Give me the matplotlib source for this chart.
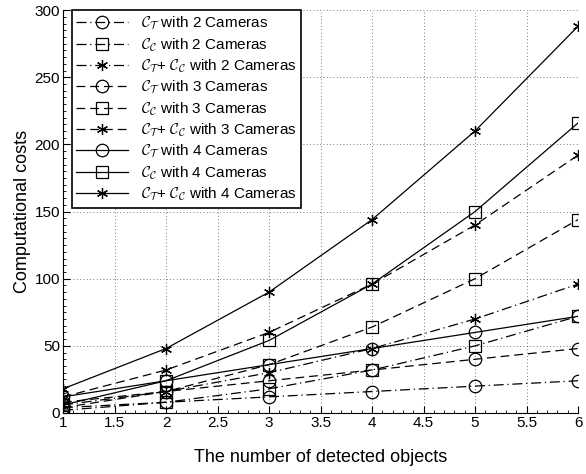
import matplotlib.pyplot as plt
from matplotlib.ticker import MultipleLocator

plt.rcParams['font.family'] = ['Liberation Sans', 'DejaVu Sans']
plt.rcParams['mathtext.fontset'] = 'cm'

objects = [1, 2, 3, 4, 5, 6]

ct_2 = [4, 8, 12, 16, 20, 24]
cc_2 = [2, 8, 18, 32, 50, 72]
ctc_2 = [6, 16, 30, 48, 70, 96]
ct_3 = [8, 16, 24, 32, 40, 48]
cc_3 = [4, 16, 36, 64, 100, 144]
ctc_3 = [12, 32, 60, 96, 140, 192]
ct_4 = [12, 24, 36, 48, 60, 72]
cc_4 = [6, 24, 54, 96, 150, 216]
ctc_4 = [18, 48, 90, 144, 210, 288]

CT = r'$\mathcal{C}_{\mathcal{T}}$'
CC = r'$\mathcal{C}_{\mathcal{C}}$'

# six-armed asterisk with a vertical stroke, like MATLAB's '*'
star = (6, 2, 0)
series = [
    (ct_2, 'o', '-.', CT + ' with 2 Cameras'),
    (cc_2, 's', '-.', CC + ' with 2 Cameras'),
    (ctc_2, star, '-.', CT + '+ ' + CC + ' with 2 Cameras'),
    (ct_3, 'o', '--', CT + ' with 3 Cameras'),
    (cc_3, 's', '--', CC + ' with 3 Cameras'),
    (ctc_3, star, '--', CT + '+ ' + CC + ' with 3 Cameras'),
    (ct_4, 'o', '-', CT + ' with 4 Cameras'),
    (cc_4, 's', '-', CC + ' with 4 Cameras'),
    (ctc_4, star, '-', CT + '+ ' + CC + ' with 4 Cameras'),
]

fig = plt.figure(figsize=(5.86, 4.74), dpi=100)
ax = fig.add_axes([0.1075, 0.1287, 0.879, 0.850])

for vals, mk, ls, label in series:
    dashes = {'-.': (8, 3, 1, 3), '--': (7, 4)}.get(ls)
    size = {'o': 9, 's': 8.5}.get(mk, 8) if isinstance(mk, str) else 8
    line, = ax.plot(objects, vals, color='black', linestyle=ls, linewidth=0.9,
                    marker=mk, markersize=size,
                    markerfacecolor='none', markeredgecolor='black',
                    markeredgewidth=0.9, label=label)
    if dashes:
        line.set_dashes(dashes)

ax.set_xlim(1, 6)
ax.set_ylim(0, 300)
ax.set_xticks([1, 1.5, 2, 2.5, 3, 3.5, 4, 4.5, 5, 5.5, 6])
ax.set_xticklabels(['1', '1.5', '2', '2.5', '3', '3.5', '4', '4.5', '5', '5.5', '6'])
ax.set_yticks([0, 50, 100, 150, 200, 250, 300])
ax.xaxis.set_minor_locator(MultipleLocator(0.1))
ax.yaxis.set_minor_locator(MultipleLocator(5))
ax.tick_params(which='major', direction='in', labelsize=11, length=5, pad=2)
ax.tick_params(which='minor', direction='in', length=2.5)
ax.grid(True, which='major', linestyle=(0, (1, 3)), color='black',
        linewidth=0.6, alpha=0.7)
ax.spines['top'].set_visible(False)
ax.spines['right'].set_visible(False)
ax.set_xlabel('The number of detected objects', fontsize=13, labelpad=14)
ax.set_ylabel('Computational costs', fontsize=13, labelpad=3)

leg = ax.legend(loc='upper left', bbox_to_anchor=(0.017, 1.0), borderaxespad=0,
                fontsize=11, handlelength=3.4, handletextpad=0.8,
                labelspacing=0.26, fancybox=False, framealpha=1, borderpad=0.3)
leg.get_frame().set_edgecolor('black')
leg.get_frame().set_linewidth(1.2)

fig.savefig('out.png', dpi=100)
